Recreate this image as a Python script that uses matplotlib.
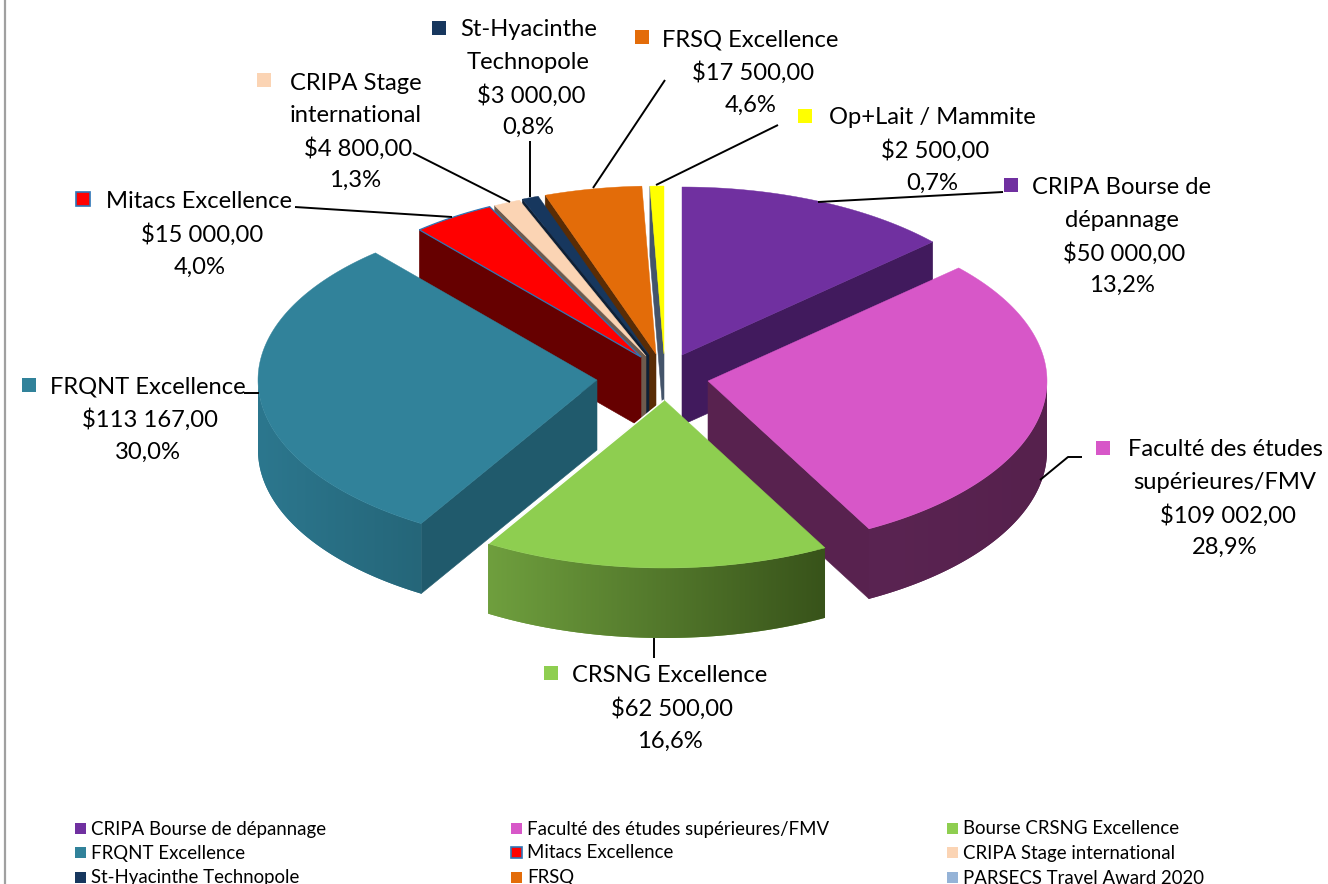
import numpy as np
import matplotlib
matplotlib.use("Agg")
import matplotlib.pyplot as plt
from matplotlib.patches import Polygon, Rectangle
from matplotlib.colors import to_rgb, LinearSegmentedColormap

plt.rcParams['font.family'] = ['Lato', 'DejaVu Sans']

# ---- data ----
slice_names = ["CRIPA Bourse de dépannage", "Faculté des études supérieures/FMV", "CRSNG Excellence",
               "FRQNT Excellence", "Mitacs Excellence", "CRIPA Stage international",
               "St-Hyacinthe Technopole", "FRSQ Excellence", "Op+Lait / Mammite"]
amounts = [50000, 109002, 62500, 113167, 15000, 4800, 3000, 17500, 2500]
top_colors = ["#7030A0", "#D757C8", "#8ECE50", "#31829A", "#FF0000", "#FBD4B4", "#17375E", "#E36C09", "#FFFF00"]
cut_colors = ["#411A5D", "#58224F", "#4C7029", "#205A6C", "#660000", "#6E5B4E", "#0F2035", "#5A2C05", "#44546A"]
wall_left = ["#411A5D", "#5A2452", "#6F9F3E", "#2C778E", "#660000", "#6E5B4E", "#0F2035", "#5A2C05", "#44546A"]
wall_right = ["#411A5D", "#56214D", "#38531A", "#256679", "#660000", "#6E5B4E", "#0F2035", "#5A2C05", "#44546A"]
legend_labels = ["CRIPA Bourse de dépannage", "Faculté des études supérieures/FMV", "Bourse CRSNG Excellence",
                 "FRQNT Excellence", "Mitacs Excellence", "CRIPA Stage international",
                 "St-Hyacinthe Technopole", "FRSQ", "PARSECS Travel Award 2020"]
legend_colors = ["#7030A0", "#D757C8", "#8ECE50", "#31829A", "#FF0000", "#FBD4B4", "#17375E", "#E36C09", "#95B3D7"]

# ---- layout (pixels) ----
W, H = 1328, 884
RX, RY, DEPTH = 339, 168, 70
apex = [(682, 355), (708, 381), (664, 400), (597, 380), (641, 357), (646, 356), (649, 355), (656, 354), (664, 354)]
draw_order = [8, 7, 6, 5, 4, 0, 3, 1, 2]

label_lines = [
    ["CRIPA Bourse de", "dépannage"], ["Faculté des études", "supérieures/FMV"], ["CRSNG Excellence"],
    ["FRQNT Excellence"], ["Mitacs Excellence"], ["CRIPA Stage", "international"],
    ["St-Hyacinthe", "Technopole"], ["FRSQ Excellence"], ["Op+Lait / Mammite"]]
label_x = [1122, 1225, 669.5, 148, 199.5, 355.5, 528.5, 750.5, 932.5]
label_y0 = [188, 450, 676, 387, 202, 83, 30, 40, 118]
marker_xy = [(1011, 185), (1103, 448), (551, 673), (29, 385), (83, 199), (264, 80), (439, 28), (642, 37), (805, 116)]
LINE_H = 32.6
leaders = [
    [(1003, 192), (818, 202)], [(1082, 457), (1068, 457), (1040, 480)], [(654, 638), (654, 658)],
    [(244, 393), (259, 393)], [(295, 207), (452, 217)], [(413, 153), (510, 202)],
    [(530, 141), (530, 197)], [(665, 80), (593, 188)], [(778, 125), (656, 185)]]

fig = plt.figure(figsize=(W / 100, H / 100), dpi=100)
ax = fig.add_axes([0, 0, 1, 1])

ax.plot([5, 5], [0, H], color="#A0A0A0", lw=1.6, zorder=1)

fractions = np.array(amounts, dtype=float) / sum(amounts)
ends = np.cumsum(fractions) * 2 * np.pi
starts = ends - fractions * 2 * np.pi


def rim(a, t):
    return a[0] + RX * np.sin(t), a[1] - RY * np.cos(t)


z = 2
for i in draw_order:
    a, ts, te = apex[i], starts[i], ends[i]
    # radial cut faces
    for t, show in ((ts, np.pi < ts < 2 * np.pi), (te, 0 < te < np.pi)):
        if show:
            x, y = rim(a, t)
            ax.add_patch(Polygon([a, (x, y), (x, y + DEPTH), (a[0], a[1] + DEPTH)],
                                 fc=cut_colors[i], ec=cut_colors[i], lw=0.4, zorder=z))
            z += 1
    # outer wall, with a horizontal gradient
    w0, w1 = max(ts, np.pi / 2), min(te, 3 * np.pi / 2)
    if w1 > w0:
        tt = np.linspace(w0, w1, 200)
        xs, ys = rim(a, tt)
        outline = list(zip(xs, ys)) + list(zip(xs[::-1], ys[::-1] + DEPTH))
        base = Polygon(outline, fc=wall_left[i], ec="none", zorder=z)
        ax.add_patch(base)
        z += 1
        cmap = LinearSegmentedColormap.from_list("w", [to_rgb(wall_left[i]), to_rgb(wall_right[i])], N=256)
        grad = np.linspace(0, 1, 256).reshape(1, -1)
        # gradient runs left to right in screen space
        x0, x1 = xs.min(), xs.max()
        im = ax.imshow(grad, extent=(x0, x1, ys.max() + DEPTH + 2, ys.min() - 2), cmap=cmap,
                       aspect="auto", zorder=z, interpolation="bilinear")
        clip = Polygon(outline, transform=ax.transData, fc="none", ec="none")
        ax.add_patch(clip)
        im.set_clip_path(clip)
        z += 1
    # top face
    tt = np.linspace(ts, te, 200)
    xs, ys = rim(a, tt)
    pts = [a] + list(zip(xs, ys))
    edge = "#2E75B6" if i == 4 else top_colors[i]
    ax.add_patch(Polygon(pts, fc=top_colors[i], ec=edge, lw=0.9 if i == 4 else 0.3, zorder=z))
    z += 1
    if i == 2:
        x2, y2 = rim(a, te)
        ax.plot([a[0], x2], [a[1], y2], color="white", lw=1.1, zorder=z, solid_capstyle="butt")
        z += 1

ax.set_xlim(0, W)
ax.set_ylim(H, 0)
ax.axis("off")

z_text = z + 5
for i in range(len(amounts)):
    pts = np.array(leaders[i])
    ax.plot(pts[:, 0], pts[:, 1], color="black", lw=1.4, zorder=z_text, solid_capstyle="butt")
    amount_txt = "${:,.2f}".format(amounts[i]).replace(",", " ").replace(".", ",")
    pct_txt = "{:.1f}%".format(fractions[i] * 100).replace(".", ",")
    lines = label_lines[i] + [amount_txt, pct_txt]
    for k, s in enumerate(lines):
        dx = 2.5 if k == len(label_lines[i]) else 0
        ax.text(label_x[i] + dx, label_y0[i] + k * LINE_H, s, ha="center", va="center",
                fontsize=17.1, color="black", zorder=z_text)
    mx, my = marker_xy[i]
    ec = "#2E75B6" if i == 4 else top_colors[i]
    ax.add_patch(Rectangle((mx - 7, my - 7), 14, 14, fc=top_colors[i], ec=ec,
                           lw=1.2 if i == 4 else 0, zorder=z_text))

# legend
legend_col_x = [80, 516, 952]
legend_row_y = [828, 852, 877]
for i, (lab, col) in enumerate(zip(legend_labels, legend_colors)):
    x = legend_col_x[i % 3]
    y = legend_row_y[i // 3]
    ec = "#2E75B6" if lab == "Mitacs Excellence" else col
    ax.add_patch(Rectangle((x - 5.5, y - 5.5), 11, 11, fc=col, ec=ec,
                           lw=1.2 if lab == "Mitacs Excellence" else 0, zorder=z_text))
    ax.text(x + 11, y + 1, lab, ha="left", va="center", fontsize=13.4, color="black", zorder=z_text)

fig.savefig("out.png", dpi=100, facecolor="white")
